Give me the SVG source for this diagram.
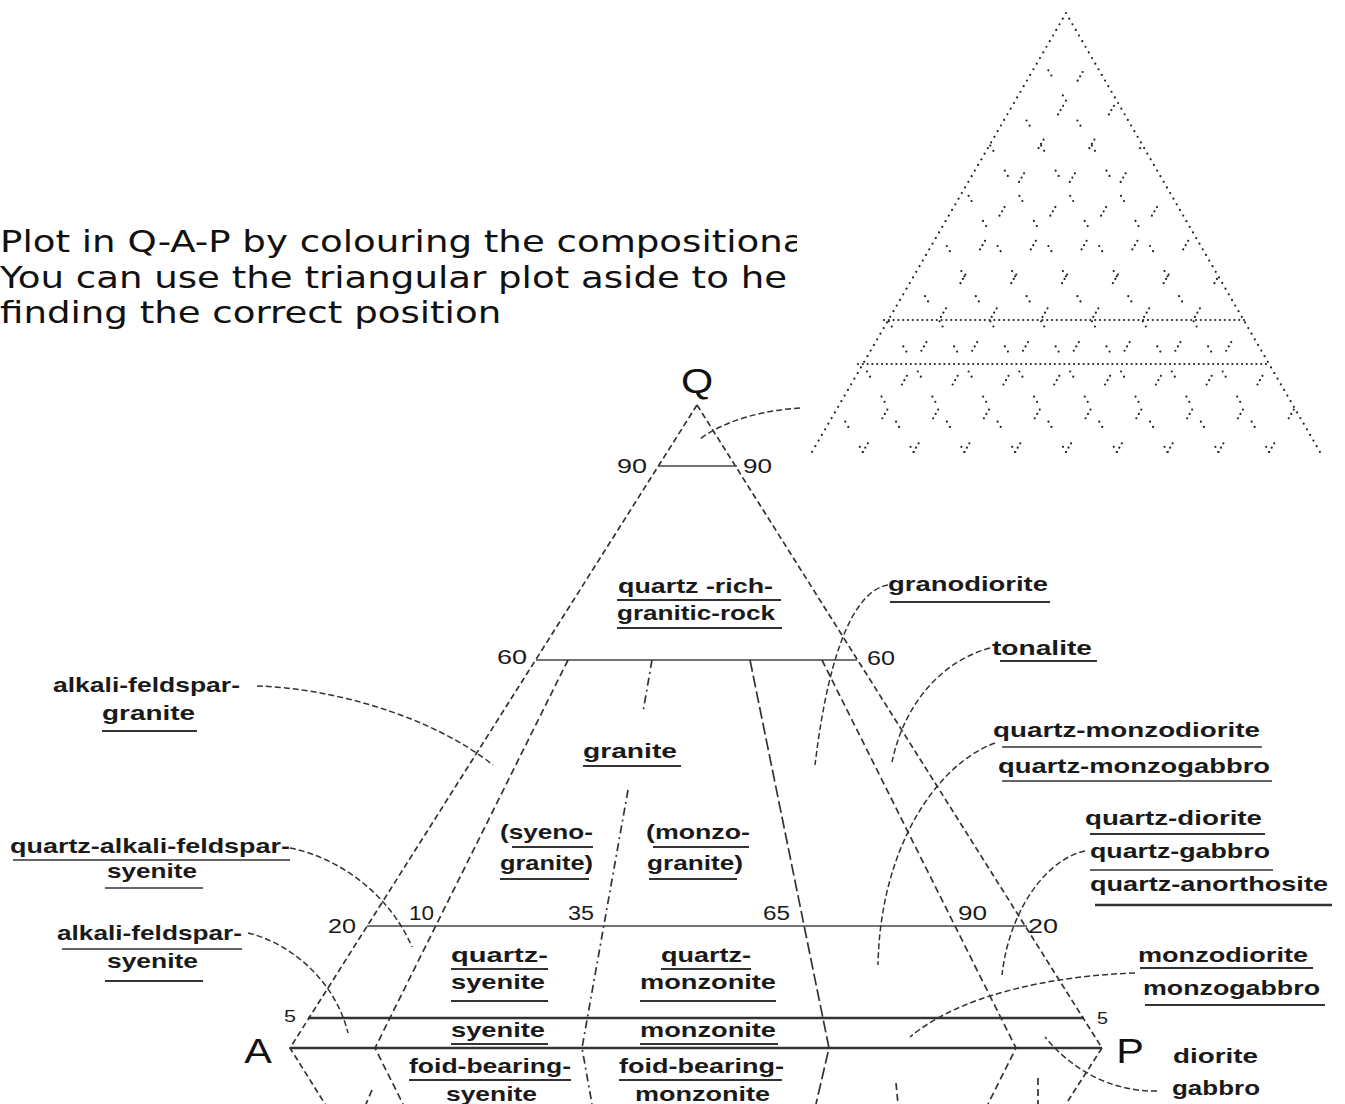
<svg xmlns="http://www.w3.org/2000/svg" width="1345" height="1104" viewBox="0 0 1345 1104">
<defs>
<style>
.intro{font-family:"DejaVu Sans",sans-serif;font-size:31px;fill:#111}
.lbl{font-family:"Liberation Sans",Arial,sans-serif;font-size:21px;font-weight:bold;fill:#1a1a1a}
.num{font-family:"Liberation Sans",Arial,sans-serif;font-size:20px;fill:#1a1a1a}
.big{font-family:"Liberation Sans",Arial,sans-serif;font-size:36px;fill:#111}
.ul{stroke:#333;stroke-width:2;fill:none}
.side{stroke:#333;stroke-width:1.7;fill:none;stroke-dasharray:6 3.5}
.hl{stroke:#444;stroke-width:1.5;fill:none}
.hl2{stroke:#333;stroke-width:2.6;fill:none}
.div{stroke:#333;stroke-width:1.7;fill:none;stroke-dasharray:7 4}
.dd{stroke:#333;stroke-width:1.7;fill:none;stroke-dasharray:8 4 2 4}
.ld{stroke:#333;stroke-width:1.7;fill:none;stroke-dasharray:12 4}
.lead{stroke:#333;stroke-width:1.5;fill:none;stroke-dasharray:6 3}
.dotside{stroke:#222;stroke-width:2.2;stroke-linecap:round;fill:none;stroke-dasharray:0 6.5}
.dothl{stroke:#222;stroke-width:2.2;stroke-linecap:round;fill:none;stroke-dasharray:0 4.8}
.grid1{stroke:#222;stroke-width:2.2;stroke-linecap:round;fill:none;stroke-dasharray:0 5 0 5 0 29}
.grid2{stroke:#222;stroke-width:2.2;stroke-linecap:round;fill:none;stroke-dasharray:0 6 0 23}
</style>
<clipPath id="introClip"><rect x="0" y="150" width="797" height="200"/></clipPath>
</defs>
<rect width="1345" height="1104" fill="#fff"/>

<g id="intro-text" clip-path="url(#introClip)">
<g transform="scale(1.198 1)">
<text class="intro" x="0" y="252">Plot in Q-A-P by colouring the compositiona</text>
<text class="intro" x="0" y="288">You can use the triangular plot aside to he</text>
<text class="intro" x="0" y="323">finding the correct position</text>
</g>
</g>

<g id="helper-triangle">
<path class="dotside" d="M1066 13 L812 452 M1066 13 L1320 452"/>
<path class="dothl" d="M884 320 L1246 320 M858 364 L1270 364"/>
<path class="grid1" d="M862.8 452 L1091.4 56.9 M913.6 452 L1116.8 100.8 M964.4 452 L1142.2 144.7 M1015.2 452 L1167.6 188.6 M1066 452 L1193 232.5 M1116.8 452 L1218.4 276.4 M1167.6 452 L1243.8 320.3 M1218.4 452 L1269.2 364.2 M1269.2 452 L1294.6 408.1"/>
<path class="grid2" d="M862.8 452 L837.4 408.1 M913.6 452 L862.8 364.2 M964.4 452 L888.2 320.3 M1015.2 452 L913.6 276.4 M1066 452 L939 232.5 M1116.8 452 L964.4 188.6 M1167.6 452 L989.8 144.7 M1218.4 452 L1015.2 100.8 M1269.2 452 L1040.6 56.9"/>
</g>

<g id="qap-frame">
<path class="side" d="M697 405 L290 1048 L325 1104"/>
<path class="side" d="M697 405 L1102 1048 L1066 1104"/>
<path class="hl" d="M658 466 L737 466"/>
<path class="hl" d="M536 660 L857 660"/>
<path class="hl" d="M367 926 L1027 926"/>
<path class="hl2" d="M308 1018 L1084 1018"/>
<path class="hl2" d="M290 1048 L1102 1048"/>
<path class="div" d="M568 660 L375 1048 L403 1104"/>
<path class="dd" d="M652 660 L643 712 M628 790 L582 1048 L592 1104"/>
<path class="ld" d="M750 660 L829 1048 L816 1104"/>
<path class="div" d="M822 660 L1016 1048 L988 1104"/>
<path class="div" d="M372 1090 L366 1104 M896 1083 L898 1104 M1038 1078 L1038 1104"/>
</g>

<g id="apex-labels">
<text class="big" x="697" y="393" text-anchor="middle" transform="translate(697 0) scale(1.15 1) translate(-697 0)">Q</text>
<text class="big" x="258" y="1063" text-anchor="middle" transform="translate(258 0) scale(1.15 1) translate(-258 0)">A</text>
<text class="big" x="1130" y="1063" text-anchor="middle" transform="translate(1130 0) scale(1.15 1) translate(-1130 0)">P</text>
</g>

<g id="scale-numbers">
<text class="num" x="617" y="473" textLength="30" lengthAdjust="spacingAndGlyphs">90</text>
<text class="num" x="743" y="473" textLength="29" lengthAdjust="spacingAndGlyphs">90</text>
<text class="num" x="497" y="664" textLength="30" lengthAdjust="spacingAndGlyphs">60</text>
<text class="num" x="867" y="665" textLength="28" lengthAdjust="spacingAndGlyphs">60</text>
<text class="num" x="328" y="933" textLength="28" lengthAdjust="spacingAndGlyphs">20</text>
<text class="num" x="409" y="920" textLength="25" lengthAdjust="spacingAndGlyphs">10</text>
<text class="num" x="568" y="920" textLength="26" lengthAdjust="spacingAndGlyphs">35</text>
<text class="num" x="763" y="920" textLength="27" lengthAdjust="spacingAndGlyphs">65</text>
<text class="num" x="958" y="920" textLength="29" lengthAdjust="spacingAndGlyphs">90</text>
<text class="num" x="1028" y="933" textLength="30" lengthAdjust="spacingAndGlyphs">20</text>
<text class="num" x="284" y="1022" style="font-size:17px" textLength="12" lengthAdjust="spacingAndGlyphs">5</text>
<text class="num" x="1097" y="1024" style="font-size:17px" textLength="11" lengthAdjust="spacingAndGlyphs">5</text>
</g>

<g id="connectors">
<path class="lead" d="M800 408 C765 410 725 420 700 439"/>
<path class="lead" d="M888 585 C858 590 830 640 815 765"/>
<path class="lead" d="M990 648 C945 660 905 700 892 762"/>
<path class="lead" d="M995 743 C935 765 880 850 878 965"/>
<path class="lead" d="M1085 851 C1050 858 1010 905 1002 975"/>
<path class="lead" d="M1135 973 C1050 976 960 995 910 1037"/>
<path class="lead" d="M1157 1091 C1110 1092 1070 1068 1045 1037"/>
<path class="lead" d="M257 686 C330 688 430 715 493 765"/>
<path class="lead" d="M290 848 C340 858 390 895 412 947"/>
<path class="lead" d="M248 933 C290 943 335 980 348 1033"/>
</g>

<g id="quartz-rich-granitic-rock">
<text class="lbl" x="618" y="593" textLength="155" lengthAdjust="spacingAndGlyphs">quartz -rich-</text>
<path class="ul" d="M617 600 L781 600"/>
<text class="lbl" x="617" y="620" textLength="158" lengthAdjust="spacingAndGlyphs">granitic-rock</text>
<path class="ul" d="M617 628 L782 628"/>
</g>
<g id="granite">
<text class="lbl" x="583" y="758" textLength="94" lengthAdjust="spacingAndGlyphs">granite</text>
<path class="ul" d="M583 766 L681 766"/>
</g>
<g id="syenogranite">
<text class="lbl" x="500" y="839" textLength="93" lengthAdjust="spacingAndGlyphs">(syeno-</text>
<path class="ul" d="M512 847 L593 847"/>
<text class="lbl" x="500" y="870" textLength="93" lengthAdjust="spacingAndGlyphs">granite)</text>
<path class="ul" d="M500 879 L589 879"/>
</g>
<g id="monzogranite">
<text class="lbl" x="646" y="839" textLength="104" lengthAdjust="spacingAndGlyphs">(monzo-</text>
<path class="ul" d="M653 847 L749 847"/>
<text class="lbl" x="647" y="870" textLength="96" lengthAdjust="spacingAndGlyphs">granite)</text>
<path class="ul" d="M649 879 L737 879"/>
</g>
<g id="quartz-syenite">
<text class="lbl" x="451" y="962" textLength="97" lengthAdjust="spacingAndGlyphs">quartz-</text>
<path class="ul" d="M451 969 L548 969"/>
<text class="lbl" x="451" y="989" textLength="94" lengthAdjust="spacingAndGlyphs">syenite</text>
<path class="ul" d="M451 1001 L548 1001"/>
</g>
<g id="quartz-monzonite">
<text class="lbl" x="661" y="962" textLength="90" lengthAdjust="spacingAndGlyphs">quartz-</text>
<path class="ul" d="M661 969 L751 969"/>
<text class="lbl" x="640" y="989" textLength="136" lengthAdjust="spacingAndGlyphs">monzonite</text>
<path class="ul" d="M640 1001 L776 1001"/>
</g>
<g id="syenite">
<text class="lbl" x="451" y="1037" textLength="94" lengthAdjust="spacingAndGlyphs">syenite</text>
<path class="ul" d="M451 1044 L548 1044"/>
</g>
<g id="monzonite">
<text class="lbl" x="640" y="1037" textLength="136" lengthAdjust="spacingAndGlyphs">monzonite</text>
<path class="ul" d="M640 1044 L778 1044"/>
</g>
<g id="foid-bearing-syenite">
<text class="lbl" x="409" y="1073" textLength="162" lengthAdjust="spacingAndGlyphs">foid-bearing-</text>
<path class="ul" d="M409 1080 L571 1080"/>
<text class="lbl" x="446" y="1101" textLength="91" lengthAdjust="spacingAndGlyphs">syenite</text>
</g>
<g id="foid-bearing-monzonite">
<text class="lbl" x="619" y="1073" textLength="165" lengthAdjust="spacingAndGlyphs">foid-bearing-</text>
<path class="ul" d="M619 1080 L782 1080"/>
<text class="lbl" x="635" y="1101" textLength="135" lengthAdjust="spacingAndGlyphs">monzonite</text>
</g>

<g id="alkali-feldspar-granite">
<text class="lbl" x="53" y="692" textLength="187" lengthAdjust="spacingAndGlyphs">alkali-feldspar-</text>
<text class="lbl" x="102" y="720" textLength="93" lengthAdjust="spacingAndGlyphs">granite</text>
<path class="ul" d="M102 731 L197 731"/>
</g>
<g id="quartz-alkali-feldspar-syenite">
<text class="lbl" x="10" y="853" textLength="280" lengthAdjust="spacingAndGlyphs">quartz-alkali-feldspar-</text>
<path class="ul" d="M13 860 L290 860" style="stroke-width:1.4"/>
<text class="lbl" x="107" y="878" textLength="90" lengthAdjust="spacingAndGlyphs">syenite</text>
<path class="ul" d="M105 888 L203 888" style="stroke-width:1.4"/>
</g>
<g id="alkali-feldspar-syenite">
<text class="lbl" x="57" y="940" textLength="185" lengthAdjust="spacingAndGlyphs">alkali-feldspar-</text>
<path class="ul" d="M62 949 L242 949" style="stroke-width:1.4"/>
<text class="lbl" x="107" y="968" textLength="91" lengthAdjust="spacingAndGlyphs">syenite</text>
<path class="ul" d="M105 981 L203 981"/>
</g>

<g id="granodiorite">
<text class="lbl" x="888" y="591" textLength="160" lengthAdjust="spacingAndGlyphs">granodiorite</text>
<path class="ul" d="M890 602 L1050 602"/>
</g>
<g id="tonalite">
<text class="lbl" x="992" y="655" textLength="100" lengthAdjust="spacingAndGlyphs">tonalite</text>
<path class="ul" d="M1000 661 L1097 661"/>
</g>
<g id="quartz-monzodiorite">
<text class="lbl" x="993" y="737" textLength="267" lengthAdjust="spacingAndGlyphs">quartz-monzodiorite</text>
<path class="ul" d="M1002 747 L1262 747" style="stroke-width:1.4"/>
<text class="lbl" x="998" y="773" textLength="272" lengthAdjust="spacingAndGlyphs">quartz-monzogabbro</text>
<path class="ul" d="M1002 781 L1272 781" style="stroke-width:1.4"/>
</g>
<g id="quartz-diorite">
<text class="lbl" x="1085" y="825" textLength="177" lengthAdjust="spacingAndGlyphs">quartz-diorite</text>
<path class="ul" d="M1090 834 L1265 834"/>
<text class="lbl" x="1090" y="858" textLength="180" lengthAdjust="spacingAndGlyphs">quartz-gabbro</text>
<path class="ul" d="M1090 870 L1273 870" style="stroke-width:1.4"/>
<text class="lbl" x="1090" y="891" textLength="238" lengthAdjust="spacingAndGlyphs">quartz-anorthosite</text>
<path class="ul" d="M1095 905 L1332 905" style="stroke-width:2.4"/>
</g>
<g id="monzodiorite">
<text class="lbl" x="1138" y="962" textLength="170" lengthAdjust="spacingAndGlyphs">monzodiorite</text>
<path class="ul" d="M1140 968 L1313 968"/>
<text class="lbl" x="1143" y="995" textLength="177" lengthAdjust="spacingAndGlyphs">monzogabbro</text>
<path class="ul" d="M1145 1005 L1325 1005"/>
</g>
<g id="diorite">
<text class="lbl" x="1173" y="1063" textLength="85" lengthAdjust="spacingAndGlyphs">diorite</text>
<text class="lbl" x="1172" y="1095" textLength="88" lengthAdjust="spacingAndGlyphs">gabbro</text>
</g>
</svg>
